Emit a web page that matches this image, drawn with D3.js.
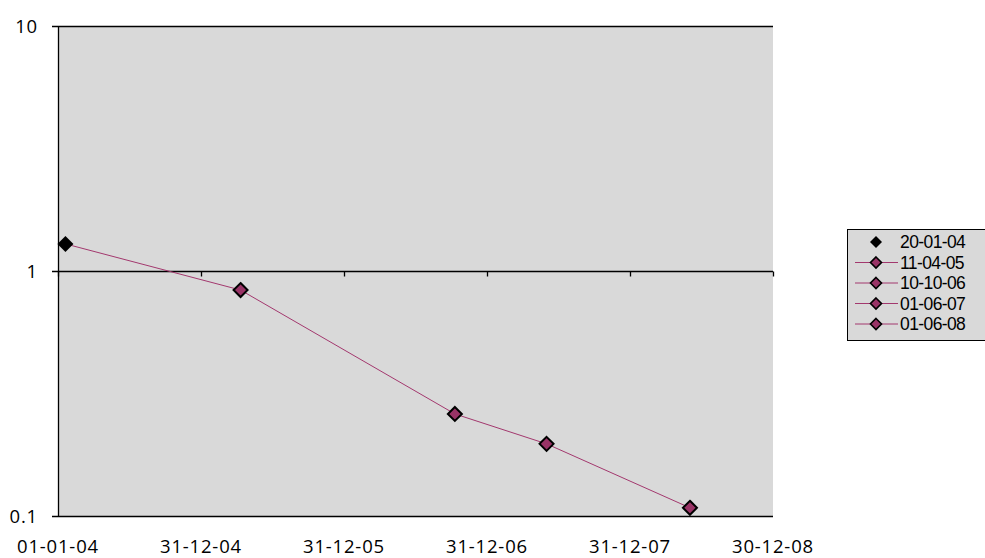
<!DOCTYPE html>
<html><head><meta charset="utf-8">
<script src="https://cdn.jsdelivr.net/npm/d3@7"></script>
<style>body{margin:0;background:#fff}svg{display:block}</style>
</head><body><svg id="c" width="985" height="558"></svg>
<script>
const seriesNames = ["20-01-04","11-04-05","10-10-06","01-06-07","01-06-08"];
const dates = ["2004-01-20","2005-04-11","2006-10-10","2007-06-01","2008-06-01"];
const values = [1.29, 0.836, 0.261, 0.197, 0.108];
const xTickDates = ["2004-01-01","2004-12-31","2005-12-31","2006-12-31","2007-12-31","2008-12-30"];
const xTickLabels = ["01-01-04","31-12-04","31-12-05","31-12-06","31-12-07","30-12-08"];
const yTicks = [0.1, 1, 10];
const yTickLabels = ["0.1","1","10"];

const parse = d3.utcParse("%Y-%m-%d");
const svg = d3.select("#c");
const L=58, R=773, T=26, B=516;
const x = d3.scaleUtc().domain([parse(xTickDates[0]), parse(xTickDates[xTickDates.length-1])]).range([L,R]);
const y = d3.scaleLog().domain([0.1,10]).range([B,T]);

svg.append("rect").attr("x",L).attr("y",T).attr("width",R-L).attr("height",B-T).attr("fill","#d9d9d9");

svg.append("g").selectAll("line").data(yTicks).join("line")
  .attr("x1",L-6).attr("x2",R).attr("y1",d=>Math.round(y(d))+0.5).attr("y2",d=>Math.round(y(d))+0.5)
  .attr("stroke","#000").attr("stroke-width",1.3);
svg.append("line").attr("x1",L+0.5).attr("x2",L+0.5).attr("y1",T).attr("y2",B).attr("stroke","#000").attr("stroke-width",1.3);

svg.append("g").selectAll("text").data(yTicks).join("text")
  .attr("x",38).attr("y",d=>y(d)).attr("dy","0.36em").attr("text-anchor","end")
  .attr("font-family","Open Sans").attr("font-size",18.5).attr("letter-spacing",0.8).attr("fill","#000")
  .text((d,i)=>yTickLabels[i]);

const y1 = Math.round(y(1))+0.5;
svg.append("g").selectAll("line").data(xTickDates).join("line")
  .attr("x1",d=>Math.round(x(parse(d)))+0.5).attr("x2",d=>Math.round(x(parse(d)))+0.5)
  .attr("y1",y1).attr("y2",y1+5).attr("stroke","#000").attr("stroke-width",1.3);
svg.append("g").selectAll("text").data(xTickDates).join("text")
  .attr("x",d=>x(parse(d))).attr("y",553).attr("text-anchor","middle")
  .attr("font-family","Open Sans").attr("font-size",18.5).attr("letter-spacing",0.8).attr("fill","#000")
  .text((d,i)=>xTickLabels[i]);

const pts = dates.map((d,i)=>({date:parse(d), v:values[i], i}));
svg.append("path").datum(pts)
  .attr("d", d3.line().x(d=>x(d.date)).y(d=>y(d.v)))
  .attr("fill","none").attr("stroke","#a3386e").attr("stroke-width",1);

const diamond = s => `M0,${-s}L${s},0L0,${s}L${-s},0Z`;
svg.append("g").selectAll("path").data(pts).join("path")
  .attr("transform",d=>`translate(${x(d.date)},${y(d.v)})`)
  .attr("d",d=>d.i===0?diamond(8):diamond(7))
  .attr("fill",d=>d.i===0?"#000":"#993366")
  .attr("stroke","#000").attr("stroke-width",d=>d.i===0?0:2);

const lg = svg.append("g");
lg.append("rect").attr("x",847.5).attr("y",229.5).attr("width",140).attr("height",111)
  .attr("fill","#d9d9d9").attr("stroke","#000").attr("stroke-width",1);
const rows = lg.selectAll("g").data(seriesNames).join("g")
  .attr("transform",(d,i)=>`translate(0,${242+i*20.5})`);
rows.filter((d,i)=>i>0).append("line").attr("x1",855).attr("x2",898).attr("y1",0).attr("y2",0)
  .attr("stroke","#a3386e").attr("stroke-width",1);
rows.append("path").attr("transform","translate(876,0)")
  .attr("d",(d,i)=>i===0?diamond(6):diamond(5.5))
  .attr("fill",(d,i)=>i===0?"#000":"#993366")
  .attr("stroke","#000").attr("stroke-width",(d,i)=>i===0?0:1.6);
rows.append("text").attr("x",900).attr("y",0).attr("dy","0.36em")
  .attr("font-family","Liberation Sans").attr("font-size",17.5).attr("letter-spacing",-0.6).attr("fill","#000")
  .text(d=>d);
</script></body></html>
